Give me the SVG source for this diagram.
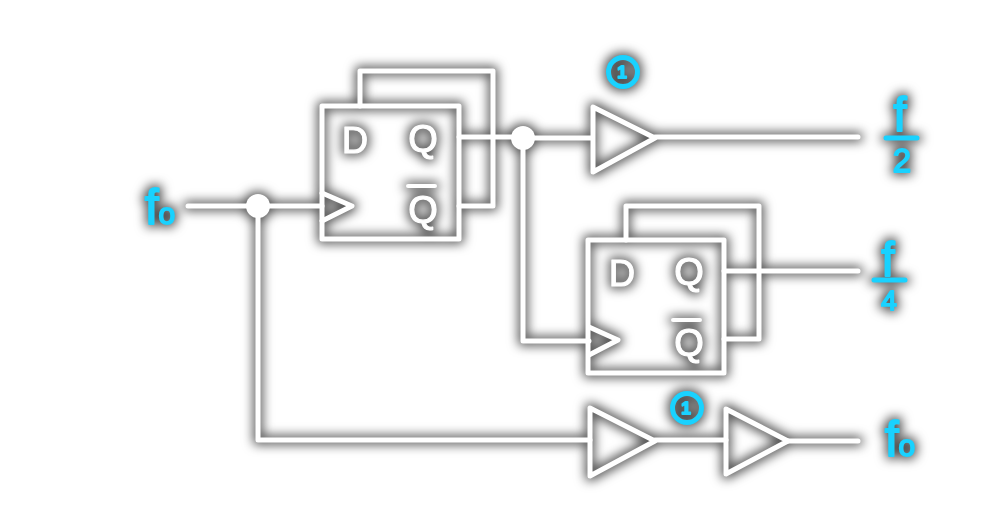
<svg xmlns="http://www.w3.org/2000/svg" width="999" height="514" viewBox="0 0 999 514">
<defs>
<filter id="glow" x="0" y="0" width="999" height="514" filterUnits="userSpaceOnUse" color-interpolation-filters="sRGB">
<feMorphology in="SourceAlpha" operator="dilate" radius="2" result="fat"/>
<feGaussianBlur in="fat" stdDeviation="5.5" result="soft"/>
<feFlood flood-color="#000" flood-opacity="0.72"/>
<feComposite in2="soft" operator="in" result="shadow"/>
<feMerge><feMergeNode in="shadow"/><feMergeNode in="SourceGraphic"/></feMerge>
</filter>
</defs>
<style>
.w{fill:none;stroke:#fff;stroke-width:5;stroke-linecap:round;stroke-linejoin:round}
.dot{fill:#fff}
.lt{font-family:"Liberation Sans",Arial,sans-serif;fill:#fff;stroke:#fff;stroke-width:1.2;stroke-linejoin:round;text-anchor:middle}
.bl{font-family:"Liberation Sans",Arial,sans-serif;fill:#19d2ff;stroke:#19d2ff;stroke-width:1.8;stroke-linejoin:round;text-anchor:middle}
.bar{fill:none;stroke:#19d2ff;stroke-width:5;stroke-linecap:round}
.ring{fill:none;stroke:#19d2ff;stroke-width:5}
</style>
<rect width="999" height="514" fill="#fff"/>
<g filter="url(#glow)">
<g id="connectors" class="w">
<path d="M360 106V71H493V206H459"/>
<path d="M459 137H523"/>
<path d="M523 138H592"/>
<path d="M188 206H322"/>
<path d="M258 206V440H590"/>
<path d="M523 138V341H589"/>
<path d="M655 137H858"/>
<path d="M626 240V206H759V339H724"/>
<path d="M724 271H858"/>
<path d="M655 440H726"/>
<path d="M788 441H858"/>
</g>
<g id="ff1">
<rect class="w" x="322" y="106" width="137" height="133"/>
<path class="w" d="M322 193L352 206L322 221"/>
<text class="lt" x="355" y="153" font-size="36">D</text>
<text class="lt" x="423" y="152" font-size="38">Q</text>
<path class="w" d="M408 186H435" style="stroke-width:4"/>
<text class="lt" x="423" y="223" font-size="38">Q</text>
</g>
<g id="ff2">
<rect class="w" x="588" y="240" width="136" height="133"/>
<path class="w" d="M589 327L618 340L589 355"/>
<text class="lt" x="622" y="286" font-size="36">D</text>
<text class="lt" x="689" y="285" font-size="38">Q</text>
<path class="w" d="M673 320H700" style="stroke-width:4"/>
<text class="lt" x="689" y="356" font-size="38">Q</text>
</g>
<g id="junction1"><circle class="dot" cx="258" cy="206" r="12"/></g>
<g id="junction2"><circle class="dot" cx="523" cy="138" r="12"/></g>
<g id="buffer1"><path class="w" d="M593 107V172L655 138Z"/></g>
<g id="buffer2"><path class="w" d="M590 408V476L655 441Z"/></g>
<g id="buffer3"><path class="w" d="M726 409V474L788 441Z"/></g>
<g id="badge1"><circle class="ring" cx="623" cy="72" r="14.5"/><text class="bl" x="622" y="78" font-size="17" style="font-weight:bold">1</text></g>
<g id="badge2"><circle class="ring" cx="687" cy="408" r="14.5"/><text class="bl" x="686" y="414" font-size="17" style="font-weight:bold">1</text></g>
<g id="label-fo-in"><text class="bl" x="160" y="224" font-size="50">f<tspan font-size="30">o</tspan></text></g>
<g id="label-f2"><text class="bl" x="900" y="131" font-size="48">f</text><path class="bar" d="M886 138H917"/><text class="bl" x="902" y="172" font-size="33">2</text></g>
<g id="label-f4"><text class="bl" x="888" y="276" font-size="48">f</text><path class="bar" d="M874 280H905"/><text class="bl" x="889" y="310" font-size="28">4</text></g>
<g id="label-fo-out"><text class="bl" x="900" y="456" font-size="50">f<tspan font-size="30">o</tspan></text></g>
</g>
</svg>
